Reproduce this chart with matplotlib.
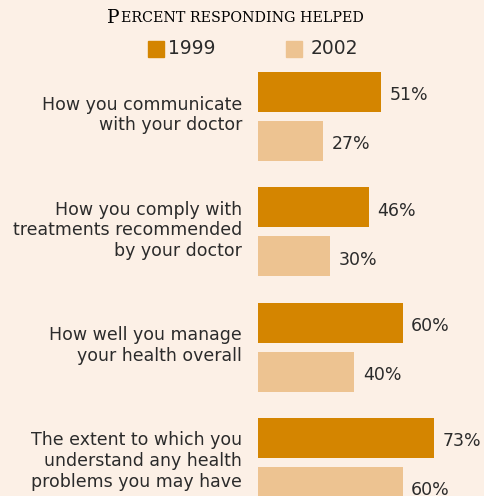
import matplotlib.pyplot as plt
from matplotlib.patches import Rectangle

questions = [
    "How you communicate\nwith your doctor",
    "How you comply with\ntreatments recommended\nby your doctor",
    "How well you manage\nyour health overall",
    "The extent to which you\nunderstand any health\nproblems you may have",
]
pct_1999 = [51, 46, 60, 73]
pct_2002 = [27, 30, 40, 60]
years = ["1999", "2002"]

bg = "#FCF0E6"
c1999 = "#D48500"
c2002 = "#EDC391"
txt = "#2b2b2b"

fig = plt.figure(figsize=(4.85, 4.96), dpi=100, facecolor=bg)
ax = fig.add_axes([258 / 485, 0, 1 - 258 / 485, 1])
ax.set_facecolor(bg)

gap = 0.425
h = 0.347
ypos = list(range(len(questions)))
ax.barh([y for y in ypos], pct_1999, height=h, color=c1999, align="center")
ax.barh([y + gap for y in ypos], pct_2002, height=h, color=c2002, align="center")

for y, v in zip(ypos, pct_1999):
    ax.text(v + 3.5, y + 0.03, f"{v}%", va="center", ha="left", fontsize=12.5, color=txt)
for y, v in zip(ypos, pct_2002):
    ax.text(v + 3.5, y + gap + 0.03, f"{v}%", va="center", ha="left", fontsize=12.5, color=txt)
for y, q in zip(ypos, questions):
    ax.text(-6.6, y + 0.2, q, va="center", ha="right", fontsize=12.5, color=txt,
            linespacing=1.2, clip_on=False)

ax.set_xlim(0, 94.2)
ax.set_ylim(3.504, -0.798)
ax.axis("off")

# title in small caps style
fig.text(107 / 485, 1 - 18 / 496, "P", fontsize=13.5, color="black", ha="left",
         va="center", family="DejaVu Serif")
fig.text(121 / 485, 1 - 18.5 / 496, "ERCENT RESPONDING HELPED", fontsize=10.3,
         color="black", ha="left", va="center", family="DejaVu Serif")

# legend
for x0, tx, col, lab in [(148, 168, c1999, years[0]), (286, 311, c2002, years[1])]:
    fig.add_artist(Rectangle((x0 / 485, 1 - 57 / 496), 16 / 485, 16 / 496,
                             transform=fig.transFigure, color=col))
    fig.text(tx / 485, 1 - 49 / 496, lab, fontsize=13.5, color=txt,
             ha="left", va="center")

fig.savefig("out.png", dpi=100, facecolor=bg)
